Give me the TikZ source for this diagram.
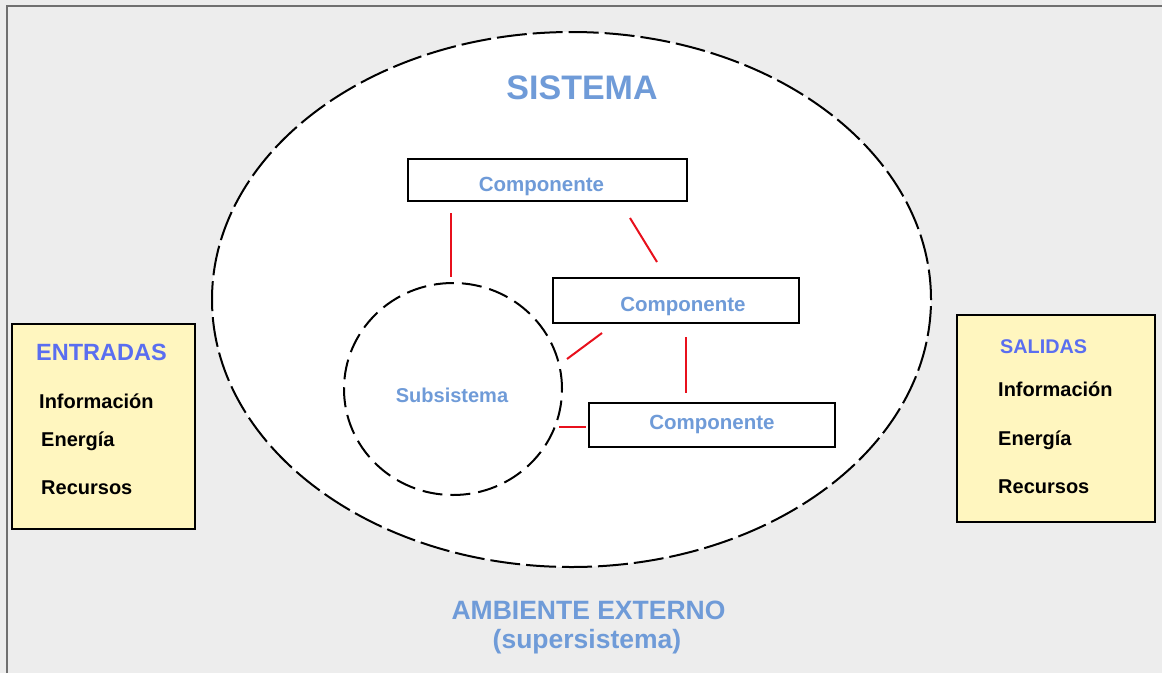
\documentclass[tikz,border=0pt]{standalone}
\usepackage{fontspec}
\setmainfont{Liberation Sans}
\usetikzlibrary{shapes.geometric}
\definecolor{bgc}{HTML}{EDEDED}
\definecolor{framec}{HTML}{707070}
\definecolor{lblue}{HTML}{6F9BD8}
\definecolor{vblue}{HTML}{5A6EF0}
\definecolor{ylw}{HTML}{FFF6BF}
\definecolor{redl}{HTML}{E8101C}
\tikzset{
  compbox/.style={draw=black, line width=2.4pt, fill=white, inner sep=0pt, text=lblue, text depth=0pt, font=\bfseries\fontsize{20.5}{24}\selectfont},
  iobox/.style={draw=black, line width=2pt, fill=ylw},
  iotitle/.style={anchor=base west, text=vblue, inner sep=0pt, font=\bfseries\fontsize{20.5}{24}\selectfont},
  iotext/.style={anchor=base west, text=black, inner sep=0pt, font=\bfseries\fontsize{20}{24}\selectfont},
  link/.style={draw=redl, line width=2pt},
  bigtext/.style={anchor=base, text=lblue, inner sep=0pt, font=\bfseries\fontsize{26.5}{30}\selectfont}
}
\begin{document}
\begin{tikzpicture}[x=1pt,y=-1pt]
\useasboundingbox (0,0) rectangle (1162,673);
\fill[bgc] (0,0) rectangle (1162,673);
\draw[framec, line width=1.3pt] (7,673) -- (7,6) -- (1162,6);

% system ellipse
\node[ellipse, draw=black, fill=white, line width=2pt, dash pattern=on 30pt off 6pt, minimum width=719pt, minimum height=535pt, inner sep=0pt] (sys) at (571.5,299.5) {};
\node[anchor=base, text=lblue, inner sep=0pt, font=\bfseries\fontsize{34}{38}\selectfont] (systitle) at (582,99.5) {SISTEMA};

% subsystem
\node[ellipse, draw=black, line width=2pt, dash pattern=on 20pt off 8pt, minimum width=218pt, minimum height=212pt, inner sep=0pt] (sub) at (453,389) {};
\node[anchor=base, text=lblue, inner sep=0pt, font=\bfseries\fontsize{20}{24}\selectfont] (subt) at (452,402.3) {Subsistema};

% components (text height sets the baseline inside each box)
\node[compbox, text height=22pt, minimum width=279pt, minimum height=42pt] (c1) at (547.5,180) {\hspace*{-12pt}Componente};
\node[compbox, text height=21pt, minimum width=246pt, minimum height=45pt] (c2) at (676,300.5) {\hspace*{14pt}Componente};
\node[compbox, text height=8pt, minimum width=246pt, minimum height=44pt] (c3) at (712,425) {Componente};

% red links (with gaps)
\coordinate (l1a) at (451,213); \coordinate (l1b) at (451,277);
\coordinate (l2a) at (630,218); \coordinate (l2b) at (657,262);
\coordinate (l3a) at (602,333); \coordinate (l3b) at (567,359);
\coordinate (l4a) at (686,337); \coordinate (l4b) at (686,393);
\coordinate (l5a) at (559,426.5); \coordinate (l5b) at (586,426.5);
\draw[link] (l1a) -- (l1b);
\draw[link] (l2a) -- (l2b);
\draw[link] (l3a) -- (l3b);
\draw[link] (l4a) -- (l4b);
\draw[link] (l5a) -- (l5b);

% inputs
\node[iobox, minimum width=183pt, minimum height=205pt, inner sep=0pt] (inbox) at (103.5,426.5) {};
\node[iotitle, font=\bfseries\fontsize{23.5}{26}\selectfont] (inT) at (36,360.7) {ENTRADAS};
\node[iotext] (in1) at (39,408.3) {Información};
\node[iotext] (in2) at (41,446) {Energía};
\node[iotext] (in3) at (41,494) {Recursos};

% outputs
\node[iobox, minimum width=198pt, minimum height=207pt, inner sep=0pt] (outbox) at (1056,418.5) {};
\node[iotitle, font=\bfseries\fontsize{19.8}{24}\selectfont] (outT) at (1000,353.3) {SALIDAS};
\node[iotext] (out1) at (998,396.7) {Información};
\node[iotext] (out2) at (998,445) {Energía};
\node[iotext] (out3) at (998,493.3) {Recursos};

% environment
\node[bigtext] (env1) at (588.5,619.3) {AMBIENTE EXTERNO};
\node[bigtext] (env2) at (587,648.3) {(supersistema)};
\end{tikzpicture}
\end{document}
